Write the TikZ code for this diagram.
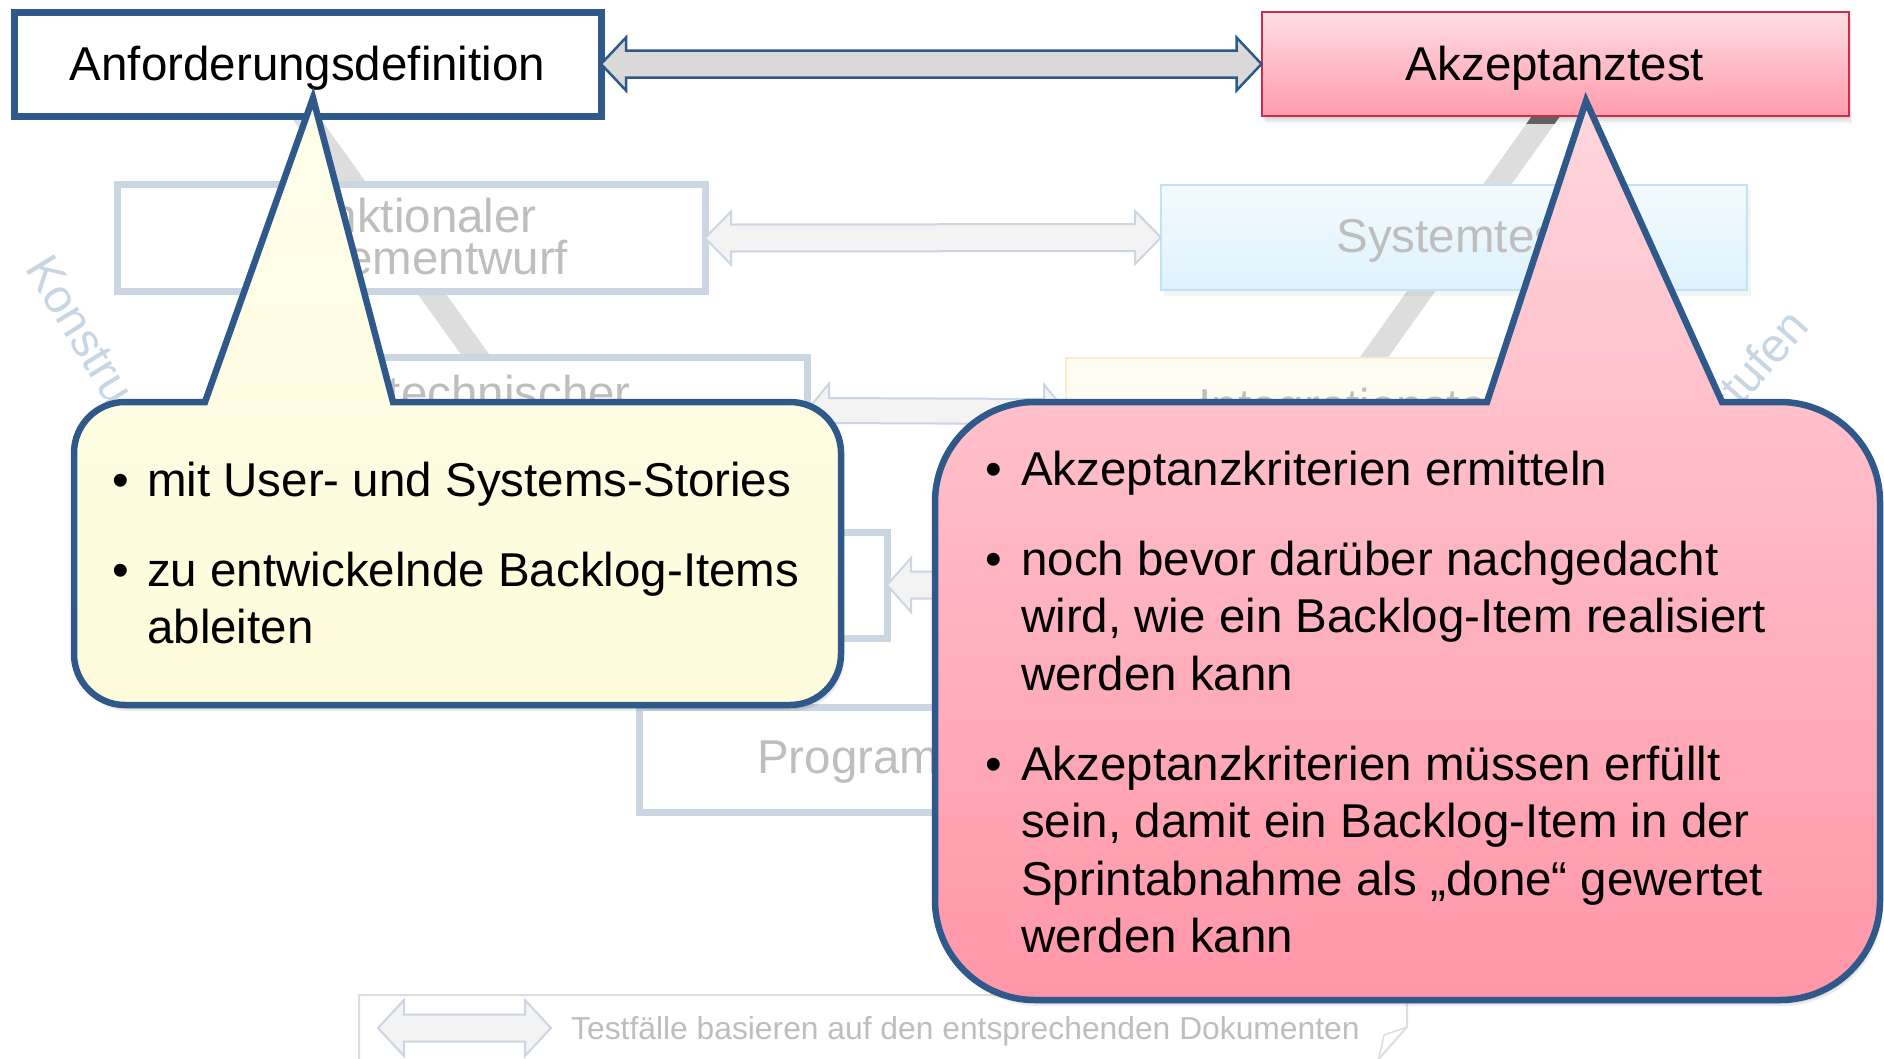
\documentclass[tikz,border=0pt]{standalone}
\usepackage{fontspec}
\setmainfont{Liberation Sans}
\usetikzlibrary{calc}

\definecolor{navy}{RGB}{46,89,138}
\definecolor{crimson}{RGB}{200,45,80}
\definecolor{akzTop}{RGB}{255,221,227}
\definecolor{akzBot}{RGB}{255,156,173}
\definecolor{pinkTop}{RGB}{255,214,221}
\definecolor{pinkBot}{RGB}{255,150,168}
\definecolor{creamTop}{RGB}{255,254,234}
\definecolor{creamBot}{RGB}{253,251,218}
\definecolor{arrowGray}{RGB}{217,217,217}
\definecolor{fadeLine}{RGB}{203,214,226}
\definecolor{fadeText}{RGB}{190,190,190}
\definecolor{fadeFill}{RGB}{243,243,243}
\definecolor{vbar}{RGB}{221,221,221}
\definecolor{skyTop}{RGB}{243,250,254}
\definecolor{skyBot}{RGB}{222,242,252}
\definecolor{skyLine}{RGB}{190,228,246}
\definecolor{sandFill}{RGB}{255,252,241}
\definecolor{sandLine}{RGB}{252,238,204}
\definecolor{legendLine}{RGB}{222,222,222}
\definecolor{stageText}{RGB}{200,214,228}

\newcommand{\bodysize}{\fontsize{47.5pt}{57pt}\selectfont}

% double-headed block arrow between two anchors:
% #1 style, #2 left tip, #3 half shaft, #4 head length, #5 half head, #6 right tip
\newcommand{\dblarrow}[6]{%
  \draw[#1] (#2) -- ++(#4,-#5) -- ++(0,#5-#3) -- ($(#6)+(-#4,-#3)$) -- ++(0,#3-#5)
    -- (#6) -- ++(-#4,#5) -- ++(0,#3-#5) -- ($(#2)+(#4,#3)$) -- ++(0,#5-#3) -- cycle;}

% callout outlines
\newcommand{\yellowcallout}{%
  (125,402) -- (205,402) -- (313,98) -- (393,402) -- (790,402)
  arc[start angle=-90,end angle=0,radius=51] -- (841,654)
  arc[start angle=0,end angle=90,radius=51] -- (125,705)
  arc[start angle=90,end angle=180,radius=51] -- (74,453)
  arc[start angle=180,end angle=270,radius=51] -- cycle}
\newcommand{\pinkcallout}{%
  (1035,402) -- (1487,402) -- (1586,101) -- (1722,402) -- (1780,402)
  arc[start angle=-90,end angle=0,radius=100] -- (1880,900)
  arc[start angle=0,end angle=90,radius=100] -- (1035,1000)
  arc[start angle=90,end angle=180,radius=100] -- (935,502)
  arc[start angle=180,end angle=270,radius=100] -- cycle}

\begin{document}
\begin{tikzpicture}[x=1pt,y=-1pt,
  topbox/.style={draw=navy, line width=7pt, fill=white, minimum width=587pt,
    minimum height=104pt, inner sep=0pt, outer sep=0pt},
  akzbox/.style={draw=crimson, line width=2pt, top color=akzTop, bottom color=akzBot,
    minimum width=587pt, minimum height=104pt, inner sep=0pt, outer sep=0pt},
  fadebox/.style={draw=fadeLine, line width=7pt, fill=white, inner sep=0pt, outer sep=0pt},
  bodytxt/.style={font=\bodysize, text=black, inner sep=0pt, outer sep=0pt},
  fadetxt/.style={font=\bodysize, text=fadeText, inner sep=0pt, anchor=base},
  stagetxt/.style={font=\bodysize, text=stageText, inner sep=0pt},
  bigarrow/.style={draw=navy, line width=2.5pt, fill=arrowGray, line join=miter},
  fadearrow/.style={draw=fadeLine, line width=2pt, fill=fadeFill, line join=miter},
  callout/.style={draw=navy, line width=6.5pt, line join=miter},
  softshadow/.style={fill=black, opacity=0.07},
  bullet/.style={font=\bodysize, inner sep=0pt, anchor=base west},
  line/.style={font=\bodysize, inner sep=0pt, anchor=base west}]

\useasboundingbox (0,0) rectangle (1884,1058);
\fill[white] (0,0) rectangle (1884,1058);

% arms of the V
\draw[vbar, line width=23pt] (293,100) -- (492,378);
\draw[vbar, line width=23pt] (1556,102) -- (1365,370);

% faded stages of the V model
\node[fadebox, minimum width=588pt, minimum height=107pt] (funk) at (411,238) {};
\node[fadebox, minimum width=582pt, minimum height=107pt] (tech) at (516,410.5) {};
\node[fadebox, minimum width=590pt, minimum height=106pt] (komp) at (592,585) {};
\node[fadebox, minimum width=590pt, minimum height=105pt] (prog) at (934,759.5) {};
\fill[black, opacity=0.04] (1164,190) rectangle (1751,296);
\node[draw=skyLine, line width=2pt, top color=skyTop, bottom color=skyBot,
  minimum width=586pt, minimum height=105pt, inner sep=0pt, outer sep=0pt] (sys) at (1454,237.5) {};
\node[draw=sandLine, line width=2pt, fill=sandFill, minimum width=590pt,
  minimum height=107pt, inner sep=0pt, outer sep=0pt] (integ) at (1361,411.5) {};
\coordinate (modw) at (1000,585);

\node[fadetxt] (funkA) at (406,232) {Funktionaler};
\node[fadetxt] (funkB) at (411,274) {Systementwurf};
\node[fadetxt, anchor=base east] (techA) at (631,409) {technischer};
\node[fadetxt] (sysT) at (1454,252) {Systemtest};
\node[fadetxt] (integT) at (1361,422) {Integrationstest};
\node[fadetxt] (progT) at (934,773) {Programmierung};

\dblarrow{fadearrow}{funk.east}{13.5}{26}{26.5}{sys.west}
\dblarrow{fadearrow}{tech.east}{12.5}{22}{27}{integ.west}
\dblarrow{fadearrow}{komp.east}{13.5}{24}{27}{modw}

% stage labels along the arms
\begin{scope}
  \clip (0,0) rectangle (128,402);
  \node[stagetxt, rotate=-58.5, anchor=base west] (konstr) at (24,268) {Konstruktionsstufen};
\end{scope}
\node[stagetxt, rotate=48.6, anchor=base west] (teststufen) at (1668,490) {Teststufen};

% legend
\draw[legendLine, line width=2pt] (359,1062) -- (359,995) -- (1407,995) -- (1407,1027) -- (1376,1062);
\draw[legendLine, line width=1.5pt] (1407,1027) -- (1384,1035) -- (1378,1062);
\coordinate (legL) at (378,1028);
\coordinate (legR) at (551,1028);
\dblarrow{fadearrow}{legL}{13.5}{26}{28}{legR}
\node[font=\fontsize{31.8pt}{38pt}\selectfont, text=fadeText, inner sep=0pt, anchor=base west]
  (legT) at (571,1039) {Testfälle basieren auf den entsprechenden Dokumenten};

% top level pair
\foreach \d in {2,4,6} {\fill[black, opacity=0.05] (1262+\d/2,12+\d) rectangle (1849+\d/2,117+\d);}
\begin{scope}
  \clip (1500,117) rectangle (1600,123);
  \draw[black!62, line width=23pt] (1556,102) -- (1365,370);
\end{scope}
\node[topbox] (anf) at (307.5,64) {};
\node[akzbox] (akz) at (1555,64) {};
\node[bodytxt, anchor=base] (anfT) at (307.5,80) {Anforderungsdefinition};
\node[bodytxt, anchor=base] (akzT) at (1555,80) {Akzeptanztest};
\dblarrow{bigarrow}{anf.east}{13.5}{25}{26.5}{akz.west}

% callouts
\foreach \d in {2,4,6} {\fill[softshadow, shift={(\d/2,\d)}] \yellowcallout;}
\draw[callout, top color=creamTop, bottom color=creamBot] \yellowcallout;
\foreach \d in {2,4,6} {\fill[softshadow, shift={(\d/2,\d)}] \pinkcallout;}
\draw[callout, top color=pinkTop, bottom color=pinkBot] \pinkcallout;

\node[bullet] (yb1) at (112,496) {•};
\node[line] (y1) at (147,496) {mit User- und Systems-Stories};
\node[bullet] (yb2) at (112,586) {•};
\node[line] (y2) at (147,586) {zu entwickelnde Backlog-Items};
\node[line] (y3) at (147,643) {ableiten};

\node[bullet] (pb1) at (985,485) {•};
\node[line] (p1) at (1021,485) {Akzeptanzkriterien ermitteln};
\node[bullet] (pb2) at (985,575) {•};
\node[line] (p2) at (1021,575) {noch bevor darüber nachgedacht};
\node[line] (p3) at (1021,632.5) {wird, wie ein Backlog-Item realisiert};
\node[line] (p4) at (1021,690) {werden kann};
\node[bullet] (pb3) at (985,780) {•};
\node[line] (p5) at (1021,780) {Akzeptanzkriterien müssen erfüllt};
\node[line] (p6) at (1021,837.5) {sein, damit ein Backlog-Item in der};
\node[line] (p7) at (1021,895) {Sprintabnahme als „done“ gewertet};
\node[line] (p8) at (1021,952.5) {werden kann};
\end{tikzpicture}
\end{document}
